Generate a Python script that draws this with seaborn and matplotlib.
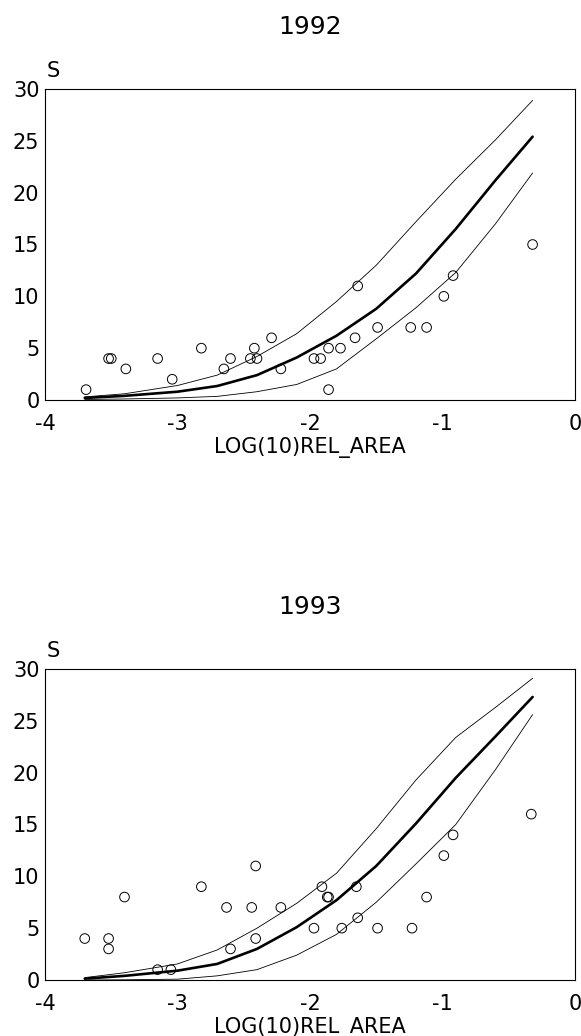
import matplotlib
matplotlib.use("Agg")
import matplotlib.pyplot as plt
import pandas as pd
import seaborn as sns

# ---------------- data ----------------
years = ["1992", "1993"]

x_1992 = [-3.69, -3.52, -3.50, -3.39, -3.15, -3.04, -2.82, -2.65, -2.60, -2.45,
          -2.42, -2.40, -2.29, -2.22, -1.97, -1.92, -1.86, -1.86, -1.77, -1.66,
          -1.64, -1.49, -1.24, -1.12, -0.99, -0.92, -0.32]
s_1992 = [1, 4, 4, 3, 4, 2, 5, 3, 4, 4,
          5, 4, 6, 3, 4, 4, 1, 5, 5, 6,
          11, 7, 7, 7, 10, 12, 15]

x_1993 = [-3.70, -3.52, -3.52, -3.40, -3.15, -3.05, -2.82, -2.63, -2.60, -2.44,
          -2.41, -2.41, -2.22, -1.97, -1.91, -1.87, -1.86, -1.76, -1.65, -1.64,
          -1.49, -1.23, -1.12, -0.99, -0.92, -0.33]
s_1993 = [4, 4, 3, 8, 1, 1, 9, 7, 3, 7,
          11, 4, 7, 5, 9, 8, 8, 5, 9, 6,
          5, 5, 8, 12, 14, 16]

curve_x = [-3.7, -3.4, -3.0, -2.7, -2.4, -2.1, -1.8, -1.5, -1.2, -0.9, -0.6, -0.32]
mean_1992 = [0.2, 0.4, 0.8, 1.35, 2.4, 4.1, 6.2, 8.8, 12.2, 16.5, 21.2, 25.4]
upper_1992 = [0.3, 0.6, 1.4, 2.4, 4.2, 6.4, 9.5, 13.0, 17.2, 21.3, 25.1, 28.9]
lower_1992 = [0.05, 0.1, 0.2, 0.35, 0.8, 1.5, 3.0, 5.9, 8.9, 12.3, 17.0, 21.9]

mean_1993 = [0.13, 0.4, 0.9, 1.55, 3.0, 5.1, 7.7, 11.0, 15.1, 19.5, 23.5, 27.3]
upper_1993 = [0.23, 0.7, 1.55, 2.9, 5.0, 7.4, 10.3, 14.6, 19.3, 23.4, 26.3, 29.1]
lower_1993 = [0.0, 0.02, 0.08, 0.4, 1.0, 2.4, 4.4, 7.5, 11.2, 15.0, 20.3, 25.6]

x_ticks = [-4, -3, -2, -1, 0]
y_ticks = [0, 5, 10, 15, 20, 25, 30]
x_label = "LOG(10)REL_AREA"
y_label = "S"

# ---------------- style ----------------
sns.set_theme(style="white")
plt.rcParams["font.family"] = ["DejaVu Sans"]
plt.rcParams["axes.unicode_minus"] = False
for key in ["text.color", "axes.labelcolor", "xtick.color", "ytick.color",
            "xtick.labelcolor", "ytick.labelcolor"]:
    plt.rcParams[key] = "black"

W, H = 581, 1036
fig = plt.figure(figsize=(W / 100, H / 100), dpi=100)

panels = [
    (years[0], x_1992, s_1992, mean_1992, upper_1992, lower_1992, 89),
    (years[1], x_1993, s_1993, mean_1993, upper_1993, lower_1993, 669),
]

box_h = 311
for year, xs, ss, mean, upper, lower, top_px in panels:
    ax = fig.add_axes([45 / W, 1 - (top_px + box_h) / H, 530 / W, box_h / H])
    pts = pd.DataFrame({"x": xs, "s": ss})
    curves = pd.DataFrame({"x": curve_x, "mean": mean, "upper": upper, "lower": lower})

    sns.lineplot(data=curves, x="x", y="upper", ax=ax, color="black", linewidth=0.6)
    sns.lineplot(data=curves, x="x", y="lower", ax=ax, color="black", linewidth=0.6)
    sns.lineplot(data=curves, x="x", y="mean", ax=ax, color="black", linewidth=1.9)
    sns.scatterplot(data=pts, x="x", y="s", ax=ax, marker="o", s=48,
                    facecolor="none", edgecolor="black", linewidth=0.7, zorder=5)

    ax.set_xlim(-4, 0)
    ax.set_ylim(0, 30)
    ax.set_xticks(x_ticks)
    ax.set_xticklabels([str(t) for t in x_ticks])
    ax.set_yticks(y_ticks)
    ax.set_yticklabels([str(t) for t in y_ticks])
    ax.tick_params(axis="both", direction="in", length=5, width=0.8,
                   colors="black", labelsize=15)
    ax.tick_params(axis="x", pad=10)
    ax.tick_params(axis="y", pad=4)
    for sp in ax.spines.values():
        sp.set_visible(True)
        sp.set_linewidth(0.8)
        sp.set_color("black")

    ax.set_xlabel(x_label, fontsize=15, labelpad=2, color="black")
    ax.set_ylabel("")
    ax.text(0.003, 1 + 18 / box_h, y_label, transform=ax.transAxes,
            ha="left", va="center", fontsize=15, color="black")
    ax.text(0.5, 1 + 62 / box_h, year, transform=ax.transAxes,
            ha="center", va="center", fontsize=18, color="black")

fig.savefig("out.png", dpi=100, facecolor="white")
